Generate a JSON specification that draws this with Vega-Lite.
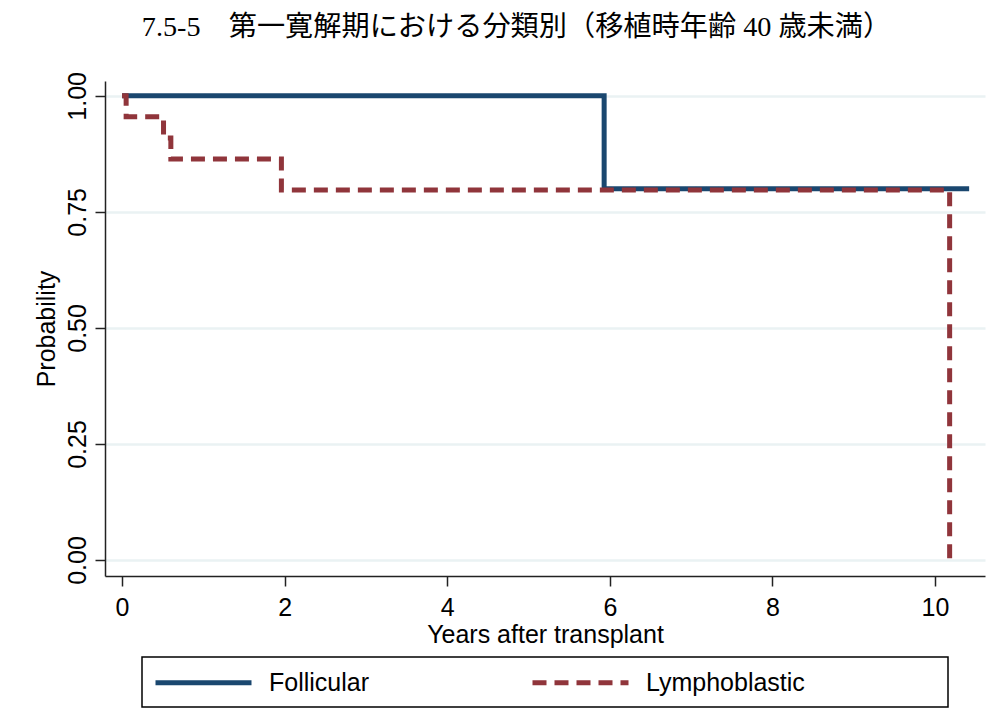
{
  "$schema": "https://vega.github.io/schema/vega-lite/v6.json",
  "width": 880,
  "height": 495,
  "autosize": {"type": "none"},
  "padding": {"left": 105, "top": 81, "right": 15, "bottom": 134},
  "background": "white",
  "title": {
    "text": "7.5-5　第一寛解期における分類別（移植時年齢 40 歳未満）",
    "font": "Liberation Serif, Noto Sans CJK JP",
    "fontSize": 28.2,
    "fontWeight": "normal",
    "color": "black",
    "anchor": "middle",
    "frame": "bounds",
    "dx": 7,
    "offset": 29
  },
  "data": {
    "values": [
      {"group": "Follicular", "years": 0, "prob": 1},
      {"group": "Follicular", "years": 5.93, "prob": 0.8},
      {"group": "Follicular", "years": 10.42, "prob": 0.8},
      {"group": "Lymphoblastic", "years": 0, "prob": 1},
      {"group": "Lymphoblastic", "years": 0.05, "prob": 0.955},
      {"group": "Lymphoblastic", "years": 0.51, "prob": 0.909},
      {"group": "Lymphoblastic", "years": 0.6, "prob": 0.864},
      {"group": "Lymphoblastic", "years": 1.96, "prob": 0.797},
      {"group": "Lymphoblastic", "years": 10.18, "prob": 0}
    ]
  },
  "mark": {"type": "line", "interpolate": "step-after", "strokeWidth": 5},
  "encoding": {
    "x": {
      "field": "years",
      "type": "quantitative",
      "scale": {"domain": [-0.21, 10.615], "nice": false, "zero": false},
      "axis": {
        "title": "Years after transplant",
        "values": [0, 2, 4, 6, 8, 10],
        "grid": false,
        "labelFontSize": 25,
        "labelPadding": 9,
        "titleFontSize": 25,
        "titlePadding": 2
      }
    },
    "y": {
      "field": "prob",
      "type": "quantitative",
      "scale": {"domain": [-0.0345, 1.032], "nice": false, "zero": false},
      "axis": {
        "title": "Probability",
        "values": [0, 0.25, 0.5, 0.75, 1],
        "format": ".2f",
        "grid": true,
        "labelAngle": 270,
        "labelAlign": "center",
        "labelBaseline": "alphabetic",
        "labelPadding": 10,
        "labelFontSize": 25,
        "titleFontSize": 25,
        "titlePadding": 6
      }
    },
    "color": {
      "field": "group",
      "type": "nominal",
      "scale": {"domain": ["Follicular", "Lymphoblastic"], "range": ["#1a476f", "#90353b"]},
      "legend": {
        "title": null,
        "orient": "none",
        "legendX": 37,
        "legendY": 576,
        "direction": "horizontal",
        "columns": 2,
        "symbolType": "M-1,0H7",
        "symbolSize": 576,
        "symbolStrokeWidth": 5,
        "labelFontSize": 25,
        "labelOffset": 87,
        "columnPadding": 152,
        "padding": 11,
        "strokeColor": "black",
        "labelExpr": "datum.label == 'Lymphoblastic' ? datum.label + '                   \u200b' : datum.label"
      }
    },
    "strokeDash": {
      "field": "group",
      "type": "nominal",
      "scale": {"domain": ["Follicular", "Lymphoblastic"], "range": [[1, 0], [14, 8]]},
      "legend": {
        "title": null,
        "orient": "none",
        "legendX": 37,
        "legendY": 576,
        "direction": "horizontal",
        "columns": 2,
        "symbolType": "M-1,0H7",
        "symbolSize": 576,
        "symbolStrokeWidth": 5,
        "labelFontSize": 25,
        "labelOffset": 87,
        "columnPadding": 152,
        "padding": 11,
        "strokeColor": "black",
        "labelExpr": "datum.label == 'Lymphoblastic' ? datum.label + '                   \u200b' : datum.label"
      }
    }
  },
  "config": {
    "view": {"stroke": null},
    "font": "Liberation Sans",
    "axis": {
      "labelFont": "Liberation Sans",
      "titleFont": "Liberation Sans",
      "labelColor": "black",
      "titleColor": "black",
      "titleFontWeight": "normal",
      "domainColor": "#222222",
      "domainWidth": 1.5,
      "tickColor": "#222222",
      "tickWidth": 1.5,
      "tickSize": 10,
      "gridColor": "#eaf2f3",
      "gridWidth": 2.5
    },
    "legend": {
      "labelFont": "Liberation Sans",
      "labelColor": "black",
      "strokeWidth": 1.5,
      "labelLimit": 0
    }
  }
}
